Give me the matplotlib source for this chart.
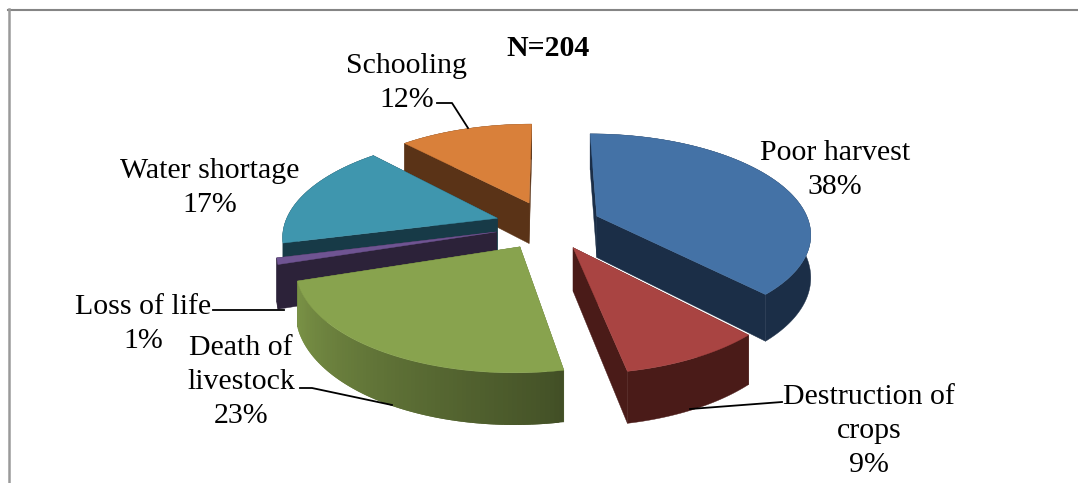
import numpy as np
import matplotlib
matplotlib.use("Agg")
import matplotlib.pyplot as plt
from matplotlib.patches import Polygon

plt.rcParams['font.family'] = ['Liberation Serif', 'DejaVu Serif']

# Data, clockwise from 12 o'clock
categories = ["Poor harvest", "Destruction of\ncrops", "Death of\nlivestock",
              "Loss of life", "Water shortage", "Schooling"]
values = [38, 9, 23, 1, 17, 12]
colors = ["#4472A6", "#A94442", "#88A34E", "#6F5492", "#3F96AE", "#D9803A"]
side_colors = ["#1B2E47", "#4A1B18", "#5A6E30", "#2C2239", "#173A47", "#5A3317"]
draw_order = [5, 0, 4, 3, 1, 2]

# label centre (pixels) and leader polyline
label_pos = [(835, 170), (869, 431), (241, 382), (143, 324), (210, 188), (407, 83)]
leaders = [None, [(782, 402), (690, 409)], [(300, 388), (312, 388), (392, 405)],
           [(213, 310), (284, 310)], None, [(437, 103), (452, 103), (468, 128)]]

# 3D pie geometry, in pixels
cx, cy = 548, 225
rx, ry = 213, 98
depth = 42
persp = 0.16
explode = 0.25


def project(u, v, z=0.0):
    d = 1 + persp * v
    return cx + rx * u / d, cy - (ry * v - depth * z) / d


def darken(col, f):
    return tuple(c * f for c in matplotlib.colors.to_rgb(col))


fig = plt.figure(figsize=(10.78, 4.83), dpi=100)
ax = fig.add_axes([0, 0, 1, 1])
ax.set_xlim(0, 1078)
ax.set_ylim(483, 0)
ax.axis("off")

ends = np.cumsum(values) / np.sum(values) * 2 * np.pi
starts = np.concatenate([[0], ends[:-1]])

for i in draw_order:
    a0, a1 = starts[i], ends[i]
    mid = (a0 + a1) / 2
    ou, ov = explode * np.sin(mid), explode * np.cos(mid)
    t = np.linspace(a0, a1, max(int(np.degrees(a1 - a0)), 2) + 1)
    au, av = ou + np.sin(t), ov + np.cos(t)

    # radial walls
    for k in (0, -1):
        quad = [project(ou, ov), project(au[k], av[k]),
                project(au[k], av[k], 1), project(ou, ov, 1)]
        ax.add_patch(Polygon(quad, closed=True, fc=side_colors[i], ec=side_colors[i], lw=0.3))

    # outer wall: only Death of livestock shows a visible gradient
    if i == 2:
        for j in range(len(t) - 2):
            deg = np.degrees(t[j + 1])
            shade = np.interp(deg, [165, 175, 255], [0.45, 0.52, 0.92])
            col = darken(colors[i], shade)
            quad = [project(au[j], av[j]), project(au[j + 2], av[j + 2]),
                    project(au[j + 2], av[j + 2], 1), project(au[j], av[j], 1)]
            ax.add_patch(Polygon(quad, closed=True, fc=col, ec="none"))
    else:
        wall = [project(a, b) for a, b in zip(au, av)]
        wall += [project(a, b, 1) for a, b in zip(au[::-1], av[::-1])]
        ax.add_patch(Polygon(wall, closed=True, fc=side_colors[i], ec=side_colors[i], lw=0.3))

    # top face
    top = [project(ou, ov)] + [project(a, b) for a, b in zip(au, av)]
    ax.add_patch(Polygon(top, closed=True, fc=colors[i], ec=colors[i], lw=0.3))

for name, val, pos, lead in zip(categories, values, label_pos, leaders):
    ax.text(pos[0], pos[1], f"{name}\n{val}%", ha="center", va="center",
            fontsize=21.5, linespacing=1.41, color="black")
    if lead is not None:
        ax.plot(*zip(*lead), color="black", lw=1.3)

ax.text(548, 49, "N=204", ha="center", va="center", fontsize=21.5, fontweight="bold")

# chart frame
ax.plot([8, 1078], [9.5, 9.5], color="#858585", lw=1.5, clip_on=False)
ax.plot([8.5, 8.5], [9, 483], color="#9A9A9A", lw=1.8, clip_on=False)

fig.savefig("out.png", dpi=100)
